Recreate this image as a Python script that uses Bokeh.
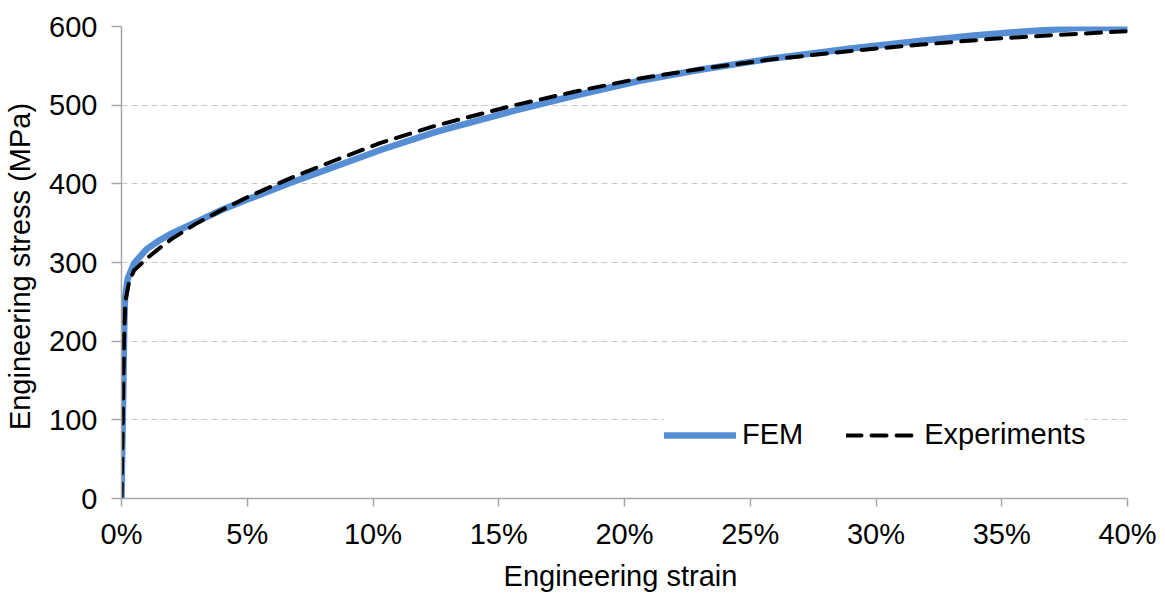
from bokeh.plotting import figure
from bokeh.models import Range1d, FixedTicker, NumeralTickFormatter
from bokeh.embed import file_html
from bokeh.resources import INLINE

# Engineering strain (fraction) and stress (MPa)
fem_strain = [0.0, 0.0006, 0.0011, 0.0014, 0.0025, 0.0050, 0.010, 0.015, 0.020,
              0.030, 0.040, 0.050, 0.067, 0.085, 0.103, 0.125, 0.155, 0.180,
              0.206, 0.230, 0.258, 0.290, 0.318, 0.340, 0.356, 0.370, 0.380, 0.400]
fem_stress = [0, 120, 220, 255, 280, 299, 317, 328, 337,
              352, 367, 380, 401, 422, 443, 466, 492, 512,
              531, 545, 559, 572, 582, 589, 593, 596, 598, 598]

exp_strain = [0.0, 0.0005, 0.0010, 0.0015, 0.0030, 0.0050, 0.010, 0.015, 0.020,
              0.030, 0.040, 0.050, 0.067, 0.085, 0.103, 0.125, 0.155, 0.180,
              0.206, 0.230, 0.258, 0.290, 0.318, 0.345, 0.370, 0.400]
exp_stress = [0, 100, 200, 250, 275, 290, 305, 318, 330,
              350, 367, 383, 407, 430, 452, 474, 499, 517,
              534, 546, 558, 569, 577, 584, 589, 594]

x_ticks = [0.0, 0.05, 0.10, 0.15, 0.20, 0.25, 0.30, 0.35, 0.40]
y_ticks = [0, 100, 200, 300, 400, 500, 600]

FONT = "Liberation Sans"
AXIS_GREY = "#a6a6a6"

p = figure(width=1165, height=594, output_backend="svg", toolbar_location=None,
           x_range=Range1d(0, 0.4), y_range=Range1d(0, 600),
           min_border_left=121, min_border_right=38,
           min_border_top=26, min_border_bottom=93)
p.outline_line_color = None
p.background_fill_color = "white"
p.border_fill_color = "white"

p.line(fem_strain, fem_stress, line_color="#558ed5", line_width=6.5,
       line_cap="round", line_join="round", legend_label="FEM")
p.line(exp_strain, exp_stress, line_color="black", line_width=4,
       line_dash="15 10", line_cap="round", line_join="round",
       legend_label="Experiments")

# grid
p.xgrid.visible = False
p.ygrid.ticker = FixedTicker(ticks=y_ticks)
p.ygrid.grid_line_color = "#c8c8c8"
p.ygrid.grid_line_dash = "6 4"
p.ygrid.grid_line_width = 1

# axes
for ax in (p.xaxis[0], p.yaxis[0]):
    ax.axis_line_color = AXIS_GREY
    ax.axis_line_width = 1.5
    ax.major_tick_line_color = AXIS_GREY
    ax.major_tick_line_width = 1.5
    ax.major_tick_in = 0
    ax.minor_tick_line_color = None
    ax.major_label_text_font = FONT
    ax.major_label_text_font_size = "29px"
    ax.major_label_text_color = "black"
    ax.axis_label_text_font = FONT
    ax.axis_label_text_font_size = "29px"
    ax.axis_label_text_font_style = "normal"
    ax.axis_label_text_color = "black"

p.xaxis.ticker = FixedTicker(ticks=x_ticks)
p.xaxis.formatter = NumeralTickFormatter(format="0%")
p.xaxis.major_tick_out = 8
p.xaxis.major_label_standoff = 11
p.xaxis.axis_label = "Engineering  strain"
p.xaxis.axis_label_standoff = 7

p.yaxis.ticker = FixedTicker(ticks=y_ticks)
p.yaxis.major_tick_out = 10
p.yaxis.major_label_standoff = 14
p.yaxis.axis_label = "Engineering  stress (MPa)"
p.yaxis.axis_label_standoff = 10

# legend
lg = p.legend[0]
lg.orientation = "horizontal"
lg.location = (543, 47)
lg.background_fill_color = "white"
lg.background_fill_alpha = 1.0
lg.border_line_color = None
lg.padding = 40
lg.spacing = 43
lg.glyph_width = 72
lg.label_standoff = 6
lg.label_text_font = FONT
lg.label_text_font_size = "29px"
lg.label_text_color = "black"

open("out.html", "w").write(file_html(p, INLINE))
